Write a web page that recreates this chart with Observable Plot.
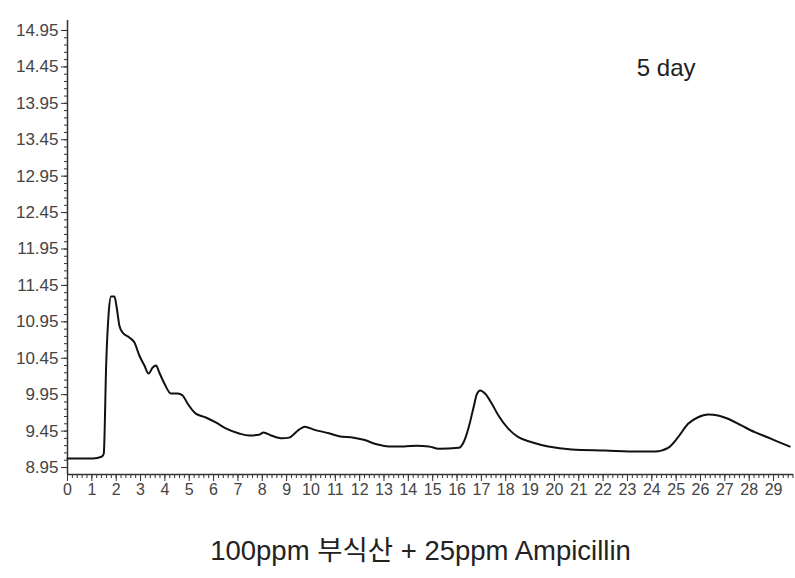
<!DOCTYPE html>
<html>
<head>
<meta charset="utf-8">
<script src="https://cdn.jsdelivr.net/npm/d3@7"></script>
<script src="https://cdn.jsdelivr.net/npm/@observablehq/plot@0.6"></script>
<style>
  html, body { margin: 0; padding: 0; background: #fff; }
  #chart svg { display: block; }
  #caption {
    width: 795px; text-align: center; margin-top: 31px;
    font-family: "Liberation Sans", "Noto Sans CJK KR", sans-serif;
    font-size: 27.5px; line-height: 32px; color: #222;
    padding-left: 46px; box-sizing: border-box;
  }
</style>
</head>
<body>
<div id="chart"></div>
<div id="caption">100ppm 부식산 + 25ppm Ampicillin</div>
<script>
// Trace (time vs signal)
const times = [0, 1.04, 1.42, 1.49, 1.59, 1.69, 1.79, 1.93, 2.02, 2.13, 2.27, 2.54, 2.75, 2.95, 3.16, 3.33, 3.50, 3.64, 3.77, 3.98, 4.25, 4.52, 4.73, 4.93, 5.27, 5.68, 6.09, 6.50, 7.05, 7.46, 7.87, 8.05, 8.36, 8.81, 9.10, 9.51, 9.75, 10.12, 10.74, 11.15, 11.76, 12.17, 12.70, 13.20, 13.81, 14.34, 14.84, 15.25, 16.07, 16.27, 16.48, 16.68, 16.82, 16.95, 17.16, 17.43, 17.70, 18.11, 18.52, 19.07, 19.75, 20.71, 22.08, 23.44, 24.13, 24.67, 25.08, 25.49, 25.90, 26.31, 26.72, 27.13, 27.68, 28.23, 28.91, 29.66];
const values = [9.074, 9.074, 9.101, 9.142, 10.378, 11.064, 11.298, 11.298, 11.147, 10.90, 10.80, 10.735, 10.666, 10.488, 10.35, 10.24, 10.323, 10.35, 10.254, 10.103, 9.966, 9.966, 9.939, 9.829, 9.69, 9.637, 9.568, 9.486, 9.417, 9.389, 9.40, 9.43, 9.39, 9.35, 9.36, 9.47, 9.51, 9.47, 9.42, 9.38, 9.36, 9.33, 9.27, 9.24, 9.24, 9.25, 9.24, 9.207, 9.22, 9.297, 9.503, 9.778, 9.962, 10.007, 9.962, 9.825, 9.664, 9.481, 9.366, 9.297, 9.238, 9.197, 9.183, 9.17, 9.17, 9.22, 9.366, 9.55, 9.64, 9.678, 9.664, 9.619, 9.527, 9.435, 9.344, 9.238];

const yTickLabels = [8.95, 9.45, 9.95, 10.45, 10.95, 11.45, 11.95, 12.45, 12.95, 13.45, 13.95, 14.45, 14.95];
const xTickLabels = [0, 1, 2, 3, 4, 5, 6, 7, 8, 9, 10, 11, 12, 13, 14, 15, 16, 17, 18, 19, 20, 21, 22, 23, 24, 25, 26, 27, 28, 29];
const titleText = "5 day";

const xDomain = [0, 29.82];
const yDomain = [8.854, 15.087];

const data = times.map((t, i) => ({t, v: values[i]}));
const yMinor = d3.range(8.95, 15.0, 0.1).map(v => +v.toFixed(2));
const xMinor = d3.range(0, 29.81, 0.2).map(v => +v.toFixed(2));

const axisColor = "#333";
const font = "'Liberation Sans', Arial, sans-serif";

const chart = Plot.plot({
  width: 795,
  height: 504,
  marginLeft: 67,
  marginRight: 2,
  marginTop: 20,
  marginBottom: 30,
  style: {fontFamily: font, background: "#fff"},
  x: {domain: xDomain, axis: null},
  y: {domain: yDomain, axis: null},
  marks: [
    Plot.axisY({ticks: yMinor, tickSize: 3, tickFormat: () => "", label: null, stroke: axisColor}),
    Plot.axisY({ticks: yTickLabels, tickSize: 6, tickPadding: 3, tickFormat: d => d.toFixed(2), label: null, stroke: axisColor, fill: "#444", fontSize: 17}),
    Plot.axisX({ticks: xMinor, tickSize: 4, tickFormat: () => "", label: null, stroke: axisColor}),
    Plot.axisX({ticks: xTickLabels, tickSize: 7, tickPadding: 2, tickFormat: d => String(d), label: null, stroke: axisColor, fill: "#444", fontSize: 16}),
    Plot.ruleX([xDomain[0]], {stroke: axisColor, strokeWidth: 1.5}),
    Plot.ruleY([yDomain[0]], {stroke: axisColor, strokeWidth: 1.5}),
    Plot.line(data, {x: "t", y: "v", stroke: "#111", strokeWidth: 2, curve: "monotone-x"}),
    Plot.text([titleText], {frameAnchor: "top-right", textAnchor: "end", lineAnchor: "top", dx: -98, dy: 38, fontSize: 24, fill: "#222"})
  ]
});
document.getElementById("chart").appendChild(chart);
</script>
</body>
</html>
